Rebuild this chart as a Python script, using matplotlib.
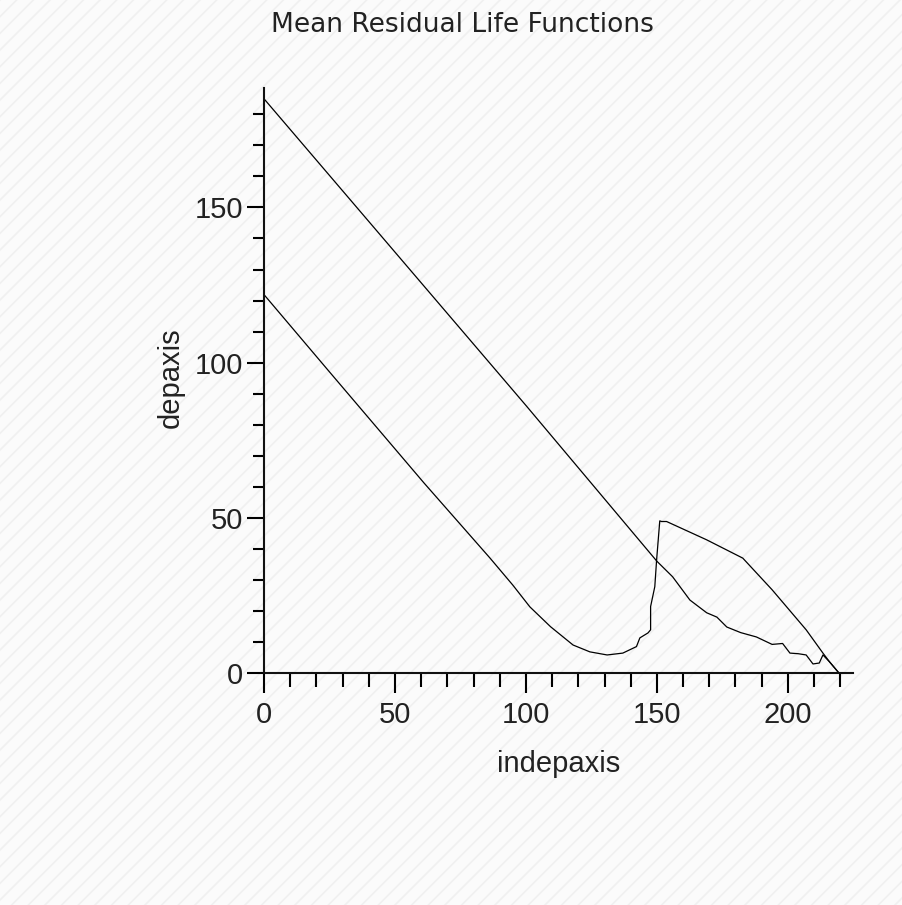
import matplotlib.pyplot as plt
from matplotlib.patches import Rectangle
from matplotlib.ticker import MultipleLocator

# upper curve
upper_x = [0, 50, 100, 150, 156, 162.6, 169, 172.9, 176.7, 182, 188,
           194, 198, 200.8, 204, 207, 209.6, 212, 213.4, 216, 219.5]
upper_y = [185, 135.6, 86.2, 36, 31, 23.5, 19.4, 18, 14.8, 13, 11.6,
           9.2, 9.5, 6.4, 6.2, 5.8, 2.9, 3.2, 5.8, 3.5, 0]

# lower curve
lower_x = [0, 25, 61.1, 86.3, 95, 101.5, 109.4, 118, 124.4, 131, 137, 142.2, 143.5,
           146.6, 147.6, 147.6, 149.2, 149.9, 151.1, 151.8, 153.7, 169, 182.8, 194, 207,
           213.4, 216, 219.5]
lower_y = [121.9, 97.0, 61.2, 37, 28.3, 21.3, 14.9, 9, 6.8, 5.8, 6.4, 8.5, 11.3,
           12.9, 13.9, 21.4, 27.8, 36.5, 49, 48.8, 48.8, 42.9, 37, 26.8, 13.9,
           6.4, 3.5, 0]

x_ticks = [0, 50, 100, 150, 200]
y_ticks = [0, 50, 100, 150]

plt.rcParams["hatch.linewidth"] = 1.2

fig = plt.figure(figsize=(9.03, 9.05), dpi=100)
fig.patches.append(Rectangle((0, 0), 1, 1, transform=fig.transFigure,
                             facecolor="#fbfbfb", edgecolor="#f0f0f0",
                             hatch="//", lw=0, zorder=-10))

ax = fig.add_axes([0.2924, 0.2564, 0.652, 0.6464])
ax.patch.set_alpha(0)

ax.plot(upper_x, upper_y, color="black", lw=0.9)
ax.plot(lower_x, lower_y, color="black", lw=0.9)

ax.set_xlim(0, 224.8)
ax.set_ylim(0, 188.5)

for s in ["top", "right"]:
    ax.spines[s].set_visible(False)
for s in ["left", "bottom"]:
    ax.spines[s].set_linewidth(1.5)
    ax.spines[s].set_color("#111111")

ax.set_xticks(x_ticks)
ax.set_yticks(y_ticks)
ax.xaxis.set_minor_locator(MultipleLocator(10))
ax.yaxis.set_minor_locator(MultipleLocator(10))

ax.tick_params(axis="x", which="major", length=14.4, width=1.5, pad=6, labelsize=21)
ax.tick_params(axis="x", which="minor", length=10, width=1.5)
ax.tick_params(axis="y", which="major", length=12.2, width=1.5, pad=3, labelsize=21)
ax.tick_params(axis="y", which="minor", length=8, width=1.5)
for lab in ax.get_xticklabels() + ax.get_yticklabels():
    lab.set_family("Liberation Sans")
    lab.set_color("#222222")

ax.text(0.5, -0.155, "indepaxis", transform=ax.transAxes, ha="center", va="center",
        fontsize=21, family="Liberation Sans", color="#222222")
ax.text(-0.158, 0.504, "depaxis", transform=ax.transAxes, ha="center", va="center",
        rotation=90, fontsize=21, family="Liberation Sans", color="#222222")

fig.text(0.512, 0.9724, "Mean Residual Life Functions", ha="center", va="center",
         fontsize=19, family="DejaVu Sans", color="#222222")

fig.savefig("out.png", dpi=100, facecolor=fig.get_facecolor())
